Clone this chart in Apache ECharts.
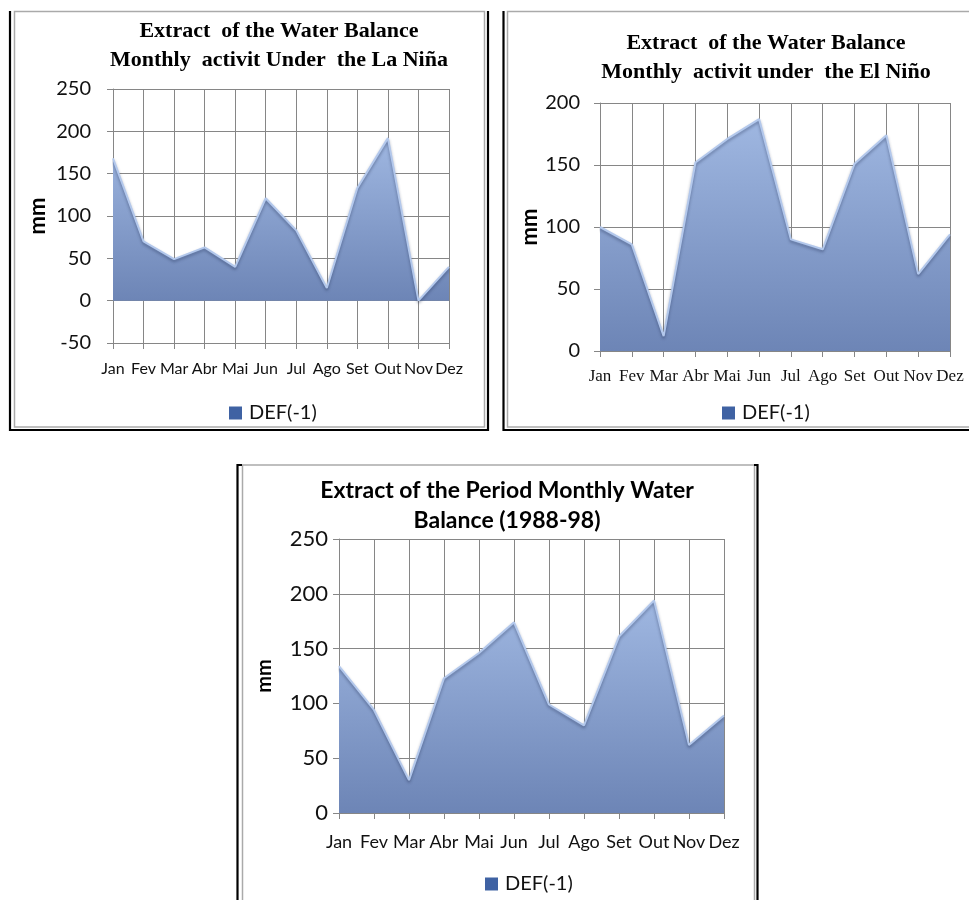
<!DOCTYPE html>
<html lang="en">
<head>
    <meta charset="UTF-8">
    <title>Water Balance</title>
    <script src="https://cdn.jsdelivr.net/npm/echarts@6/dist/echarts.min.js"></script>
    <style>
        body { margin: 0; background: #fff; }
    </style>
</head>
<body>
<div id="main" style="width:969px;height:900px;"></div>
<script type="text/javascript">
    // months
    var months = ['Jan', 'Fev', 'Mar', 'Abr', 'Mai', 'Jun', 'Jul', 'Ago', 'Set', 'Out', 'Nov', 'Dez'];
    // DEF(-1) values, mm
    var laNina = [168, 70, 49, 63, 40, 121, 83, 15, 133, 192, 0, 40];
    var elNino = [100, 86, 12, 152, 171, 187, 90, 82, 151, 174, 62, 94];
    var period = [134, 94, 30, 123, 146, 174, 99, 80, 161, 194, 62, 89];
    var seriesName = 'DEF(-1)';

    var gridColor = '#868686';
    var sans = 'Lato, "Open Sans", sans-serif';
    var serif = '"Liberation Serif", "DejaVu Serif", serif';

    var myChart = echarts.init(document.getElementById('main'));

    function areaFill() {
        return new echarts.graphic.LinearGradient(0, 0, 0, 1, [
            {offset: 0, color: '#9fb7e1'},
            {offset: 1, color: '#6d85b6'}
        ]);
    }

    function makeX(gridIndex, font, size, margin) {
        return {
            type: 'category',
            gridIndex: gridIndex,
            data: months,
            boundaryGap: false,
            axisLine: {onZero: false, lineStyle: {color: gridColor}},
            axisTick: {show: true, length: 6, lineStyle: {color: gridColor}},
            splitLine: {show: true, lineStyle: {color: gridColor, width: 1}},
            axisLabel: {interval: 0, hideOverlap: false, color: '#111', fontFamily: font, fontSize: size, margin: margin}
        };
    }

    function makeY(gridIndex, min, max, size, margin, gap, nameSize) {
        return {
            type: 'value',
            gridIndex: gridIndex,
            min: min,
            max: max,
            interval: 50,
            name: 'mm',
            nameLocation: 'middle',
            nameGap: gap,
            nameRotate: 90,
            nameTextStyle: {fontFamily: sans, fontWeight: 'bold', fontSize: nameSize, color: '#000'},
            axisLine: {show: true, lineStyle: {color: gridColor}},
            axisTick: {show: true, length: 6, lineStyle: {color: gridColor}},
            splitLine: {lineStyle: {color: gridColor, width: 1}},
            axisLabel: {color: '#111', fontFamily: sans, fontSize: size, margin: margin}
        };
    }

    function makeSeries(idx, data) {
        return {
            name: seriesName,
            type: 'line',
            xAxisIndex: idx,
            yAxisIndex: idx,
            data: data,
            showSymbol: false,
            symbol: 'none',
            lineStyle: {color: '#b3c8ec', width: 2, shadowColor: 'rgba(30,45,80,0.45)', shadowBlur: 3, shadowOffsetY: 2},
            itemStyle: {color: '#4467a6'},
            areaStyle: {color: areaFill(), opacity: 1}
        };
    }

    function makeLegend(left, top, size) {
        return {
            left: left,
            top: top,
            padding: 0,
            icon: 'rect',
            itemWidth: 13,
            itemHeight: 13,
            itemGap: 5,
            selectedMode: false,
            data: [{name: seriesName, itemStyle: {color: '#3f62a3'}}],
            textStyle: {fontFamily: sans, fontSize: size, color: '#111', padding: [0, 0, 0, 2]}
        };
    }

    var titleSerif = {fontFamily: serif, fontWeight: 'bold', fontSize: 22, color: '#000', lineHeight: 29};

    var option = {
        animation: false,
        title: [
            {text: 'Extract  of the Water Balance\nMonthly  activit Under  the La Niña', left: 274, top: 12, textAlign: 'center', textStyle: titleSerif},
            {text: 'Extract  of the Water Balance\nMonthly  activit under  the El Niño', left: 761, top: 24, textAlign: 'center', textStyle: titleSerif},
            {text: 'Extract of the Period Monthly Water\nBalance (1988-98)', left: 502, top: 471, textAlign: 'center',
                textStyle: {fontFamily: sans, fontWeight: 'bold', fontSize: 23, color: '#000', lineHeight: 30}}
        ],
        legend: [
            makeLegend(229, 403, 20),
            makeLegend(722, 403, 20),
            makeLegend(485, 874, 20)
        ],
        grid: [
            {left: 113, top: 89, width: 336, height: 254},
            {left: 600, top: 103, width: 350, height: 248},
            {left: 339, top: 539, width: 385, height: 274}
        ],
        xAxis: [
            makeX(0, sans, 16, 18),
            makeX(1, serif, 17, 17),
            makeX(2, sans, 18, 20)
        ],
        yAxis: [
            makeY(0, -50, 250, 20, 22, 64, 22),
            makeY(1, 0, 200, 20, 20, 56, 22),
            makeY(2, 0, 250, 22, 11, 64, 20)
        ],
        series: [
            makeSeries(0, laNina),
            makeSeries(1, elNino),
            makeSeries(2, period)
        ],
        graphic: [
            // frame chart 1
            {type: 'rect', shape: {x: 14.5, y: 11.5, width: 470, height: 415.5}, style: {fill: null, stroke: '#aaaaaa', lineWidth: 1.5}, z: 10},
            {type: 'polyline', shape: {points: [[10, 11], [10, 430], [488, 430], [488, 11]]}, style: {fill: null, stroke: '#000', lineWidth: 2.2}, z: 10},
            // frame chart 2
            {type: 'rect', shape: {x: 507.5, y: 11.5, width: 480, height: 415.5}, style: {fill: null, stroke: '#aaaaaa', lineWidth: 1.5}, z: 10},
            {type: 'polyline', shape: {points: [[503.5, 11], [503.5, 430], [980, 430]]}, style: {fill: null, stroke: '#000', lineWidth: 2.2}, z: 10},
            // frame chart 3
            {type: 'rect', shape: {x: 242.5, y: 465, width: 512, height: 460}, style: {fill: null, stroke: '#aaaaaa', lineWidth: 1.5}, z: 10},
            {type: 'polyline', shape: {points: [[237.5, 910], [237.5, 465], [242, 465]]}, style: {fill: null, stroke: '#000', lineWidth: 2.2}, z: 10},
            {type: 'polyline', shape: {points: [[754, 465], [757.5, 465], [757.5, 910]]}, style: {fill: null, stroke: '#000', lineWidth: 2.2}, z: 10}
        ]
    };

    myChart.setOption(option);
</script>
</body>
</html>
